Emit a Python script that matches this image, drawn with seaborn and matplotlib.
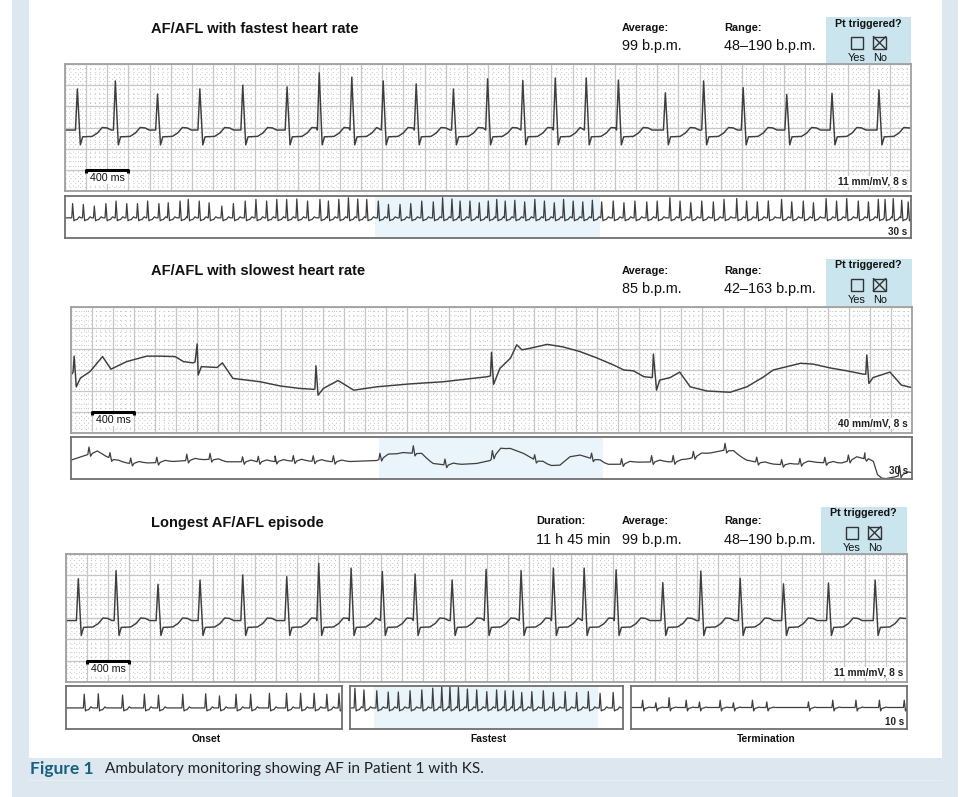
import numpy as np
import matplotlib
matplotlib.use("Agg")
import matplotlib.pyplot as plt
import seaborn as sns
from matplotlib.patches import Rectangle

sns.set_theme(style="white")
plt.rcParams['font.family'] = ['Liberation Sans', 'DejaVu Sans']

W, H = 965, 797

# ------------------------------------------------------------------ data
# 8-s detail strips (fastest rate / longest episode): R-peak times (s) and R heights (mm)
fast_beat_t = [0.117, 0.476, 0.875, 1.275, 1.681, 2.100, 2.404, 2.712, 3.009, 3.321, 3.673,
               3.996, 4.329, 4.636, 4.929, 5.233, 5.677, 6.039, 6.413, 6.825, 7.253, 7.697]
fast_beat_amp = [9.7, 11.6, 8.5, 9.7, 10.6, 10.2, 13.5, 12.5, 11.6, 10.9, 9.7,
                 12.1, 11.7, 12.3, 12.3, 11.8, 8.8, 11.6, 10.0, 8.4, 8.7, 9.5]
long_beat_amp = [9.8, 11.7, 8.5, 9.5, 10.7, 10.3, 13.4, 12.3, 11.5, 10.9, 9.5,
                 12.0, 11.7, 12.3, 12.3, 11.9, 8.9, 11.6, 9.9, 8.6, 8.8, 9.5]
detail_baseline_mm = 14.4
# one beat of the detail trace: offset from R (s) and level vs baseline (mm); None = R peak
beat_shape_dt = [-0.018, 0.0, 0.028, 0.05, 0.14, 0.19, 0.235, 0.28, 0.32]
beat_shape_mm = [0.0, None, -3.5, -1.6, -1.5, -0.7, 0.6, 0.5, 0.0]

# 8-s detail, slowest rate: traced path (s, mm)
slow_t = [0.00, 0.02, 0.03, 0.05, 0.09, 0.18, 0.30, 0.38, 0.53, 0.72, 0.85, 0.99, 1.07, 1.16,
          1.18, 1.20, 1.21, 1.24, 1.39, 1.44, 1.54, 1.80, 1.99, 2.18, 2.31, 2.32, 2.33, 2.35,
          2.40, 2.54, 2.69, 2.91, 3.23, 3.54, 3.96, 3.99, 4.00, 4.02, 4.08, 4.18, 4.24, 4.29,
          4.37, 4.53, 4.68, 4.84, 5.00, 5.16, 5.26, 5.35, 5.45, 5.53, 5.54, 5.57, 5.60, 5.70,
          5.79, 5.89, 6.05, 6.27, 6.43, 6.59, 6.68, 6.81, 6.94, 7.06, 7.22, 7.38, 7.54, 7.56,
          7.57, 7.59, 7.63, 7.79, 7.90, 8.00]
slow_mm = [13.8, 14.5, 18.3, 11.0, 13.1, 14.6, 18.2, 15.2, 17.0, 18.3, 18.3, 18.2, 17.0, 16.7,
           16.9, 21.2, 13.8, 15.8, 15.6, 16.7, 13.0, 12.2, 11.2, 10.6, 10.4, 10.5, 16.0, 9.0,
           10.6, 12.5, 10.2, 11.0, 11.7, 12.2, 13.4, 13.6, 19.2, 11.6, 15.4, 17.8, 21.0, 19.8,
           20.2, 21.1, 20.5, 19.4, 17.9, 16.2, 15.0, 14.8, 13.4, 13.2, 18.8, 10.2, 12.6, 13.2,
           14.5, 11.0, 10.0, 9.7, 11.0, 13.4, 15.0, 15.8, 16.6, 16.4, 15.5, 14.8, 14.0, 14.0,
           18.6, 11.8, 13.2, 14.5, 11.4, 10.8]

# 30-s rhythm strip, fastest rate: beat times (s) and heights (strip units, box = 10)
rhythm_fast_t = [0.27, 0.65, 1.04, 1.45, 1.81, 2.19, 2.57, 2.93, 3.33, 3.66, 4.08, 4.37, 4.76,
                 5.11, 5.56, 5.97, 6.39, 6.77, 7.15, 7.51, 7.86, 8.22, 8.60, 9.04, 9.34, 9.71,
                 10.05, 10.38, 10.70, 11.11, 11.47, 11.88, 12.26, 12.65, 13.06, 13.39, 13.72,
                 14.01, 14.36, 14.69, 15.01, 15.31, 15.61, 15.95, 16.30, 16.66, 17.00, 17.35,
                 17.68, 18.02, 18.36, 18.70, 19.03, 19.44, 19.82, 20.21, 20.63, 21.00, 21.45,
                 21.81, 22.19, 22.58, 22.99, 23.37, 23.82, 24.17, 24.55, 24.94, 25.41, 25.77,
                 26.18, 26.54, 26.99, 27.36, 27.72, 28.13, 28.49, 28.84, 29.08, 29.37, 29.67, 29.90]
rhythm_fast_amp = [3.4, 3.2, 2.8, 3.4, 4.0, 3.4, 3.4, 4.0, 3.4, 3.6, 4.0, 4.4, 4.0,
                   3.6, 2.8, 3.4, 4.0, 4.4, 4.0, 4.4, 4.4, 4.5, 4.0, 4.4, 4.0, 4.4,
                   4.8, 4.5, 4.4, 4.0, 3.2, 3.2, 3.4, 4.0, 3.8, 4.8, 4.5,
                   4.0, 4.0, 3.6, 4.0, 4.4, 4.0, 4.2, 3.8, 4.4, 4.0, 3.6,
                   4.4, 4.0, 3.8, 4.2, 3.8, 4.0, 3.6, 4.0, 3.8, 4.0, 4.8,
                   4.0, 3.6, 4.0, 3.8, 4.4, 4.6, 4.0, 3.8, 4.0, 4.4, 3.8,
                   4.0, 3.6, 4.6, 4.0, 4.6, 4.0, 3.8, 4.4, 4.4, 4.6, 4.2, 3.8]
rhythm_baseline = 4.8
# one beat of a rhythm strip: offset (s) and level (units); None = R peak
rhythm_shape_dt = [-0.03, 0.0, 0.045, 0.09, 0.16, 0.24, 0.30]
rhythm_shape_u = [0.0, None, -0.7, -0.5, -0.4, 0.25, 0.0]

# 30-s rhythm strip, slowest rate: wandering baseline (s, units) and beats
rslow_base_t = [0.00, 0.68, 0.96, 1.42, 1.68, 2.13, 3.06, 4.13, 4.96, 5.55, 6.74, 8.17, 9.70,
                10.90, 11.38, 11.85, 12.45, 12.92, 13.40, 14.47, 14.95, 15.30, 15.66, 16.14,
                16.56, 17.09, 17.44, 17.80, 18.16, 18.75, 19.11, 19.58, 20.18, 21.01, 21.72,
                22.44, 23.33, 23.62, 24.10, 24.69, 25.65, 26.47, 27.43, 28.02, 28.57, 28.80,
                29.07, 29.39, 29.75, 30.00]
rslow_base_u = [4.5, 6.0, 6.3, 4.9, 4.1, 3.7, 3.9, 4.4, 4.7, 4.1, 4.1, 4.3, 4.1,
                4.4, 5.7, 6.3, 6.0, 3.7, 3.3, 3.7, 4.4, 6.9, 7.3, 6.1,
                4.5, 3.2, 3.3, 5.3, 5.7, 4.5, 3.5, 3.5, 4.0, 4.1, 4.1,
                5.7, 6.9, 6.4, 4.5, 3.7, 3.3, 4.0, 3.7, 4.9, 4.8, 0.3,
                0.1, 0.5, 1.2, 1.4]
rslow_beat_t = [0.64, 1.39, 2.13, 3.06, 4.13, 4.96, 6.12, 6.68, 7.28, 7.93, 8.64, 9.36, 11.02,
                12.21, 13.34, 15.03, 16.54, 18.57, 19.64, 20.71, 21.48, 22.20, 23.33, 24.46,
                25.35, 26.00, 26.89, 27.73, 28.32, 29.55]
rslow_beat_amp = [1.7, 1.3, 1.3, 1.3, 1.5, 1.4, 1.2, 1.3, 1.3, 1.3, 1.3, 1.4, 1.4,
                  1.8, 1.4, 1.8, 1.2, 1.3, 1.3, 1.5, 1.5, 1.4, 1.6, 1.2,
                  1.2, 1.3, 1.3, 1.4, 1.4, 2.4]

# Longest episode, 10-s strips: onset / fastest / termination
onset_t = [0.66, 1.17, 2.05, 2.84, 3.35, 4.23, 5.06, 5.56, 6.16, 6.69, 7.37, 7.99, 8.50, 8.99, 9.45, 9.89]
onset_amp = [3.2, 3.3, 3.0, 3.2, 3.0, 3.2, 3.3, 2.8, 3.2, 3.2, 3.4, 3.4, 3.4, 3.4, 3.2, 3.4]
fastest_t = [0.18, 0.51, 0.98, 1.40, 1.77, 2.20, 2.63, 3.03, 3.36, 3.66, 3.97, 4.30, 4.64,
             5.01, 5.37, 5.68, 5.98, 6.29, 6.66, 7.08, 7.45, 7.88, 8.30, 8.73, 9.16, 9.64]
fastest_amp = [4.6, 4.2, 4.0, 3.7, 3.7, 4.0, 4.2, 4.6, 5.0, 5.0, 4.8, 4.4, 4.2,
               3.8, 4.2, 4.0, 4.0, 3.6, 3.8, 4.0, 3.6, 3.8, 3.6, 3.8, 3.4, 3.6]
termination_t = [0.42, 0.90, 1.38, 2.00, 2.48, 3.23, 3.71, 4.40, 4.92, 6.43, 7.31, 8.15, 9.00, 9.90]
termination_amp = [1.7, 1.1, 2.3, 1.7, 1.3, 1.7, 1.1, 1.7, 1.3, 1.3, 1.7, 1.7, 1.7, 1.7]
termination_shape_u = [0.0, None, -0.8, -0.2, -0.1, 0.1, 0.0]

# texts
titles = ["AF/AFL with fastest heart rate", "AF/AFL with slowest heart rate", "Longest AF/AFL episode"]
averages = ["99 b.p.m.", "85 b.p.m.", "99 b.p.m."]
ranges = ["48\u2013190 b.p.m.", "42\u2013163 b.p.m.", "48\u2013190 b.p.m."]
gains = ["11 mm/mV, 8 s", "40 mm/mV, 8 s", "11 mm/mV, 8 s"]
duration = "11 h 45 min"
sub_labels = ["Onset", "Fastest", "Termination"]
caption_head = "Figure 1"
caption_text = "Ambulatory monitoring showing AF in Patient 1 with KS."

TRACE = '#3e3e3e'
HILITE = '#e9f4fb'


# ------------------------------------------------------------------ helpers
def beats_to_trace(times, amps, base, shape_dt, shape_v, t_end):
    xs, ys = [0.0], [base]
    for i, (t, a) in enumerate(zip(times, amps)):
        nxt = times[i + 1] + shape_dt[0] if i + 1 < len(times) else t_end
        for dt, v in zip(shape_dt, shape_v):
            tt = t + dt
            if tt >= nxt or tt > t_end:
                break
            if tt <= xs[-1]:
                continue
            xs.append(tt)
            ys.append(base + (a if v is None else v))
    xs.append(t_end)
    ys.append(ys[-1])
    return np.array(xs), np.array(ys)


def beats_on_curve(times, amps, cur_t, cur_v, shape_dt, shape_v):
    pts = []
    for t, a in zip(times, amps):
        for dt, v in zip(shape_dt, shape_v):
            pts.append((t + dt, a if v is None else v, True))
    lo = [t + shape_dt[0] for t in times]
    hi = [t + shape_dt[-1] for t in times]
    for t, v in zip(cur_t, cur_v):
        if not any(l <= t <= h for l, h in zip(lo, hi)):
            pts.append((t, v, False))
    pts.sort(key=lambda p: p[0])
    xs = np.array([p[0] for p in pts])
    ys = np.array([np.interp(p[0], cur_t, cur_v) + p[1] if p[2] else p[1] for p in pts])
    return xs, ys


def add_ax(x0, y0, x1, y1):
    return fig.add_axes([x0 / W, 1 - y1 / H, (x1 - x0) / W, (y1 - y0) / H])


def style_main(ax):
    ax.set_xlim(0, 8)
    ax.set_ylim(0, 30)
    ax.set_xticks(np.arange(0, 8.001, 0.2))
    ax.set_xticks(np.arange(0, 8.001, 0.04), minor=True)
    ax.set_yticks(np.arange(0, 30.01, 5))
    ax.set_yticks(np.arange(0, 30.01, 1), minor=True)
    ax.grid(True, which='minor', color='#c4c4c4', lw=0.7, ls=(0, (1, 4)))
    ax.grid(True, which='major', color='#c6c6c6', lw=0.9)
    ax.tick_params(which='both', length=0, labelbottom=False, labelleft=False)
    ax.set_axisbelow(True)
    for s in ax.spines.values():
        s.set_color('#a0a0a0')
        s.set_lw(1.3)


def style_rhythm(ax, tmax):
    ax.set_xlim(0, tmax)
    ax.set_ylim(0, 10)
    ax.set_xticks([])
    ax.set_yticks([])
    for s in ax.spines.values():
        s.set_color('#707070')
        s.set_lw(1.3)


def draw(ax, xs, ys, lw=1.0):
    sns.lineplot(x=xs, y=ys, ax=ax, color=TRACE, lw=lw, estimator=None, sort=False, legend=False)
    ax.set_xlabel('')
    ax.set_ylabel('')


def scale_bar(ax):
    ax.plot([0.2, 0.2, 0.6, 0.6], [4.2, 5.0, 5.0, 4.2], color='black', lw=2.2,
            solid_capstyle='butt', zorder=5)
    ax.text(0.24, 3.0, "400 ms", fontsize=7.7, va='center', ha='left', color='#111', zorder=6,
            bbox=dict(facecolor='white', edgecolor='none', pad=0.6))


def gain_label(ax, s):
    ax.text(7.96, 2.2, s, fontsize=7.3, weight='bold', ha='right', va='center', color='#222',
            zorder=6, bbox=dict(facecolor='white', edgecolor='none', pad=0.5))


# ------------------------------------------------------------------ figure
fig = plt.figure(figsize=(W / 100, H / 100), dpi=100, facecolor='white', edgecolor='white')
bg = fig.add_axes([0, 0, 1, 1])
bg.set_xlim(0, W)
bg.set_ylim(H, 0)
bg.axis('off')
bg.add_patch(Rectangle((12, 0), 946, H, facecolor='#dde7f0', edgecolor='none', lw=0))
bg.add_patch(Rectangle((29, 0), 913, 758, facecolor='white', edgecolor='none', lw=0))
bg.plot([29, 942], [780, 780], color='#e6edf4', lw=0.8)

# headers
title_y = [29, 271, 523]
lab_y = [28, 270.5, 520.5]
val_y = [46, 288.5, 540]
pt_boxes = [(826, 17, 911, 64), (826, 259, 912, 306), (821, 507, 907, 554)]
for i in range(3):
    bg.text(151, title_y[i], titles[i], fontsize=10.5, weight='bold', va='center', ha='left', color='#111')
    bg.text(622, lab_y[i], "Average:", fontsize=7.9, weight='bold', va='center', ha='left', color='#111')
    bg.text(622, val_y[i], averages[i], fontsize=10.4, va='center', ha='left', color='#111')
    bg.text(724, lab_y[i], "Range:", fontsize=7.9, weight='bold', va='center', ha='left', color='#111')
    bg.text(724, val_y[i], ranges[i], fontsize=10.4, va='center', ha='left', color='#111')
    x0, y0, x1, y1 = pt_boxes[i]
    bg.add_patch(Rectangle((x0, y0), x1 - x0, y1 - y0, facecolor='#cbe5ef', edgecolor='none', zorder=1))
    bg.text(x0 + 42.5, y0 + 6.5, "Pt triggered?", fontsize=7.7, weight='bold', ha='center',
            va='center', color='#111', zorder=2)
    sq = 12.5
    bx1, bx2, by = x0 + 24.5, x0 + 47.3, y0 + 19.5
    bg.add_patch(Rectangle((bx1, by), sq, sq, fill=False, ec='#333', lw=1.0, zorder=2))
    bg.add_patch(Rectangle((bx2, by), sq, sq, fill=False, ec='#333', lw=1.0, zorder=2))
    bg.plot([bx2, bx2 + sq], [by, by + sq], color='#333', lw=1.0, zorder=2)
    bg.plot([bx2, bx2 + sq], [by + sq, by], color='#333', lw=1.0, zorder=2)
    bg.text(x0 + 31, y0 + 41, "Yes", fontsize=7.9, ha='center', va='center', color='#111', zorder=2)
    bg.text(x0 + 54, y0 + 41, "No", fontsize=7.9, ha='center', va='center', color='#111', zorder=2)
bg.text(536, lab_y[2], "Duration:", fontsize=7.9, weight='bold', va='center', ha='left', color='#111')
bg.text(536, val_y[2], duration, fontsize=10.4, va='center', ha='left', color='#111')

# sub labels & caption
for x, s in zip([206, 488, 766], sub_labels):
    bg.text(x, 739.5, s, fontsize=7.4, weight='bold', ha='center', va='center', color='#111')
bg.text(30, 769, caption_head, fontsize=12.5, weight='bold', family=['Lato', 'DejaVu Sans'],
        color='#17607f', va='center', ha='left')
bg.text(105, 769.5, caption_text, fontsize=11, family=['Lato', 'DejaVu Sans'],
        color='#222', va='center', ha='left')

# ---- strip 1: fastest
ax = add_ax(65, 64, 911, 191)
style_main(ax)
xs, ys = beats_to_trace(fast_beat_t, fast_beat_amp, detail_baseline_mm, beat_shape_dt, beat_shape_mm, 8.0)
draw(ax, xs, ys, 1.05)
scale_bar(ax)
gain_label(ax, gains[0])

ax = add_ax(65, 196, 911, 238)
style_rhythm(ax, 30)
ax.axvspan(10.99, 18.97, color=HILITE, zorder=0, lw=0)
xs, ys = beats_to_trace(rhythm_fast_t, rhythm_fast_amp, rhythm_baseline, rhythm_shape_dt, rhythm_shape_u, 30.0)
draw(ax, xs, ys, 0.9)
ax.text(29.85, 1.4, "30 s", fontsize=7.1, weight='bold', ha='right', va='center', color='#222')

# ---- strip 2: slowest
ax = add_ax(71, 307, 912, 433)
style_main(ax)
draw(ax, np.array(slow_t), np.array(slow_mm), 1.05)
scale_bar(ax)
gain_label(ax, gains[1])

ax = add_ax(71, 437, 912, 479)
style_rhythm(ax, 30)
ax.axvspan(10.99, 18.98, color=HILITE, zorder=0, lw=0)
slow_shape_dt = [-0.04, 0.0, 0.06, 0.12, 0.30, 0.45, 0.60]
slow_shape_u = [0.0, None, -0.6, 0.0, 0.4, 0.15, 0.0]
xs, ys = beats_on_curve(rslow_beat_t, rslow_beat_amp, rslow_base_t, rslow_base_u, slow_shape_dt, slow_shape_u)
draw(ax, xs, ys, 0.9)
ax.text(29.85, 1.9, "30 s", fontsize=7.1, weight='bold', ha='right', va='center', color='#222')

# ---- strip 3: longest episode
ax = add_ax(66, 554, 907, 682)
style_main(ax)
xs, ys = beats_to_trace(fast_beat_t, long_beat_amp, detail_baseline_mm, beat_shape_dt, beat_shape_mm, 8.0)
draw(ax, xs, ys, 1.05)
scale_bar(ax)
gain_label(ax, gains[2])

ax = add_ax(66, 686, 342, 729)
style_rhythm(ax, 10)
xs, ys = beats_to_trace(onset_t, onset_amp, 4.9, rhythm_shape_dt, rhythm_shape_u, 10.0)
draw(ax, xs, ys, 0.9)

ax = add_ax(350, 686, 623, 729)
style_rhythm(ax, 10)
ax.axvspan(0.88, 9.08, color=HILITE, zorder=0, lw=0)
xs, ys = beats_to_trace(fastest_t, fastest_amp, 4.9, rhythm_shape_dt, rhythm_shape_u, 10.0)
draw(ax, xs, ys, 0.9)

ax = add_ax(631, 686, 907, 729)
style_rhythm(ax, 10)
xs, ys = beats_to_trace(termination_t, termination_amp, 5.0, rhythm_shape_dt, termination_shape_u, 10.0)
draw(ax, xs, ys, 0.9)
ax.text(9.9, 1.6, "10 s", fontsize=7.1, weight='bold', ha='right', va='center', color='#222')

fig.savefig("out.png", dpi=100, facecolor='white', edgecolor='white')
